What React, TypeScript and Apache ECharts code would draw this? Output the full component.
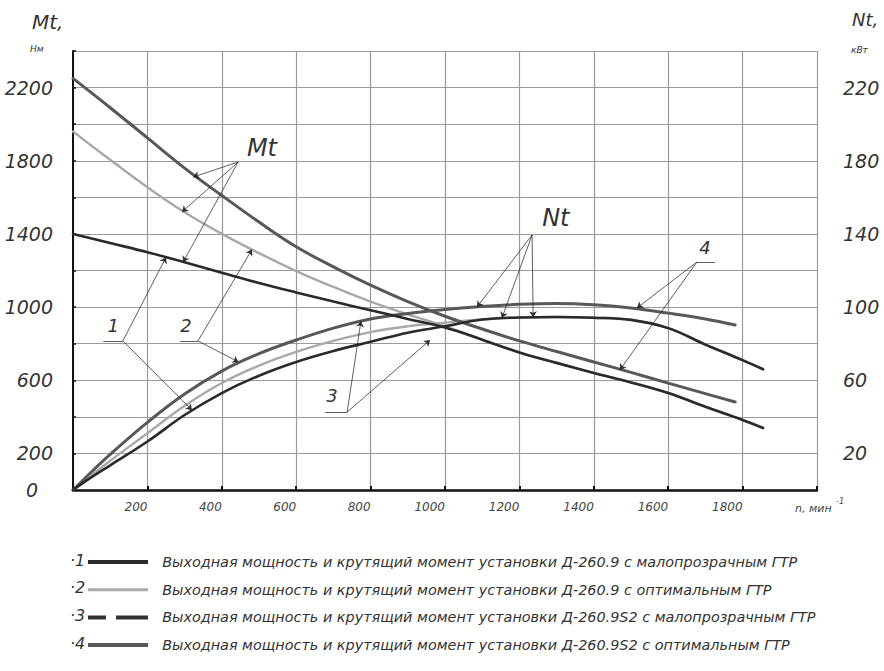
import React, { useEffect, useRef } from "react";
import * as echarts from "echarts";

const FONT = '"DejaVu Sans", "Noto Sans", sans-serif';

// ---- axis ticks ----
const MT_TICKS = [0, 200, 600, 1000, 1400, 1800, 2200];
const NT_TICKS = [20, 60, 100, 140, 180, 220];

// ---- legend names ----
const NAMES = [
  "Выходная мощность и крутящий момент установки Д-260.9 с малопрозрачным ГТР",
  "Выходная мощность и крутящий момент установки Д-260.9 с оптимальным ГТР",
  "Выходная мощность и крутящий момент установки Д-260.9S2 с малопрозрачным ГТР",
  "Выходная мощность и крутящий момент установки Д-260.9S2 с оптимальным ГТР",
];
const LEGEND_NUMS = ["·1", "·2", "·3", "·4"];

// ---- curve 4 (Д-260.9S2, оптимальный ГТР) ----
const N_MT4 = [0, 100, 200, 300, 400, 500, 600, 700, 800, 900, 1000, 1100, 1200, 1300, 1400, 1500, 1600, 1700, 1780];
const MT4 = [2250, 2090, 1925, 1760, 1610, 1465, 1330, 1220, 1120, 1030, 950, 880, 815, 757, 700, 643, 584, 527, 481];
const N_NT4 = [0, 50, 100, 200, 300, 400, 500, 600, 700, 800, 900, 1000, 1100, 1200, 1300, 1400, 1500, 1600, 1700, 1780];
const NT4 = [0, 10, 19.5, 37, 52.5, 65, 74.5, 82, 88.5, 93.5, 96.5, 98.7, 100.3, 101.5, 102, 101.3, 99.5, 96.7, 93.5, 90.2];

// ---- curves 1 and 2 (Д-260.9) ----
const N_12 = [0, 50, 100, 200, 300, 400, 500, 600, 700, 800, 900, 1000, 1100, 1200, 1300, 1400, 1500, 1600, 1700, 1800, 1855];
const MT2 = [1960, 1882, 1805, 1655, 1518, 1400, 1295, 1197, 1110, 1030, 960, 895, 822, 752, 695, 640, 588, 530, 455, 383, 339];
const NT2 = [0, 8, 16, 31, 46, 58.5, 68, 75.5, 81.5, 86.3, 89.5, 91.5, 93.2, 94.3, 94.6, 94.2, 93, 88.5, 79.5, 71, 66];
const MT1 = [1400, 1375, 1350, 1300, 1245, 1188, 1132, 1080, 1030, 983, 935, 888, 822, 752, 695, 640, 588, 530, 455, 383, 339];
const NT1 = [0, 7, 13.5, 26.5, 41, 53, 62.5, 70, 76, 81, 86, 89.5, 93.2, 94.3, 94.6, 94.2, 93, 88.5, 79.5, 71, 66];

// ---- curve 3 (dashed, not separately visible in the figure) ----
const N_3: number[] = [];
const MT3: number[] = [];
const NT3: number[] = [];

// ---- annotation leaders (n, Нм) ----
const POINTERS: number[][][] = [
  [[444, 1793], [323, 1711]], [[444, 1793], [293, 1520]], [[444, 1793], [296, 1246]],
  [[1234, 1394], [1086, 1000]], [[1234, 1394], [1153, 940]], [[1234, 1394], [1237, 944]],
  [[134, 815], [250, 1272]], [[134, 815], [320, 436]],
  [[336, 815], [481, 1315]], [[336, 815], [445, 700]],
  [[737, 426], [774, 923]], [[737, 426], [960, 820]],
  [[1677, 1246], [1516, 995]], [[1677, 1246], [1470, 656]],
];
const UNDERLINES: number[][][] = [
  [[81, 815], [134, 815]],
  [[288, 815], [336, 815]],
  [[678, 426], [737, 426]],
  [[1677, 1246], [1726, 1246]],
];
const ANNOT_TEXT = ["Mt", "Nt", "1", "2", "3", "4"];
const ANNOT_POS = [[508, 1870], [1298, 1487], [108, 902], [304, 902], [696, 514], [1699, 1328]];
const ANNOT_SIZE = [24, 24, 18, 18, 18, 18];

const zip = (xs: number[], ys: number[]) => xs.map((x, i) => [x, ys[i]]);

const COLORS = ["#2a2a2a", "#a9a9a9", "#333333", "#585858"];
const WIDTHS = [2.6, 2.4, 2.8, 3];
const TYPES: any[] = ["solid", "solid", [14, 8], "solid"];
const LEGEND_ICONS = [
  "path://M0,0H60V4H0Z",
  "path://M0,0.5H60V3.5H0Z",
  "path://M0,0H18V4H0Z M28,0H60V4H28Z",
  "path://M0,0H60V4H0Z",
];

function curve(idx: number, data: number[][], axis: number, z: number) {
  return {
    type: "line",
    name: NAMES[idx],
    yAxisIndex: axis,
    data,
    smooth: 0.4,
    symbol: "none",
    showSymbol: false,
    z,
    lineStyle: { color: COLORS[idx], width: WIDTHS[idx], type: TYPES[idx], cap: "round" },
    itemStyle: { color: COLORS[idx] },
  };
}

export default function App() {
  const ref = useRef<HTMLDivElement>(null);
  useEffect(() => {
    const chart = echarts.init(ref.current!, null, { renderer: "svg" });
    const labelBase = { fontFamily: FONT, fontStyle: "italic" as const, color: "#333" };
    const option: any = {
      animation: false,
      backgroundColor: "#fff",
      grid: { left: 73, right: 67, top: 51, bottom: 181 },
      xAxis: {
        type: "value",
        min: 0,
        max: 2000,
        interval: 200,
        axisLine: { show: true, lineStyle: { color: "#111", width: 2.5 } },
        axisTick: { show: true, inside: true, length: 4, lineStyle: { color: "#111", width: 2 } },
        axisLabel: {
          ...labelBase,
          fontSize: 12,
          color: "#444",
          align: "right",
          margin: 11,
          formatter: (v: number) => (v === 0 || v === 2000 ? "" : String(v)),
        },
        splitLine: { show: true, lineStyle: { color: "#9a9a9a", width: 1.2 } },
      },
      yAxis: [
        {
          type: "value",
          min: 0,
          max: 2400,
          interval: 200,
          position: "left",
          axisLine: { show: true, lineStyle: { color: "#111", width: 2 } },
          axisTick: { show: true, inside: true, length: 3, lineStyle: { color: "#111", width: 1.5 } },
          axisLabel: {
            ...labelBase,
            fontSize: 19,
            margin: 20,
            formatter: (v: number) => (v === 0 ? "{z|0}" : MT_TICKS.includes(v) ? String(v) : ""),
            rich: { z: { ...labelBase, fontSize: 19, padding: [0, 15, 0, 0] } },
          },
          splitLine: { show: true, lineStyle: { color: "#9a9a9a", width: 1.2 } },
        },
        {
          type: "value",
          min: 0,
          max: 240,
          interval: 20,
          position: "right",
          axisLine: { show: false },
          axisTick: { show: false },
          splitLine: { show: false },
          axisLabel: {
            ...labelBase,
            fontSize: 19,
            margin: 26,
            formatter: (v: number) => (NT_TICKS.includes(v) ? String(v) : ""),
          },
        },
      ],
      legend: {
        data: NAMES.map((n, i) => ({ name: n, icon: LEGEND_ICONS[i] })),
        orient: "vertical",
        left: 83,
        top: 550,
        itemWidth: 60,
        itemHeight: 14,
        itemGap: 13.7,
        selectedMode: false,
        formatter: (name: string) => "  " + name,
        textStyle: { ...labelBase, fontSize: 14.4 },
      },
      graphic: [
        { type: "text", left: 32, top: 12, style: { text: "Mt,", font: `italic 20px ${FONT}`, fill: "#333" } },
        { type: "text", left: 30, top: 44, style: { text: "Нм", font: `italic 9px ${FONT}`, fill: "#333" } },
        { type: "text", left: 852, top: 10, style: { text: "Nt,", font: `italic 18px ${FONT}`, fill: "#333" } },
        { type: "text", left: 851, top: 45, style: { text: "кВт", font: `italic 9px ${FONT}`, fill: "#333" } },
        { type: "text", left: 795, top: 503, style: { text: "n, мин", font: `italic 11px ${FONT}`, fill: "#444" } },
        { type: "text", left: 836, top: 497, style: { text: "-1", font: `italic 8px ${FONT}`, fill: "#444" } },
        ...LEGEND_NUMS.map((t, i) => ({
          type: "text",
          left: 70,
          top: 552 + i * 27.7,
          style: { text: t, font: `italic 16px ${FONT}`, fill: "#333" },
        })),
      ],
      series: [
        curve(1, zip(N_12, MT2), 0, 3),
        curve(1, zip(N_12, NT2), 1, 3),
        curve(3, zip(N_MT4, MT4), 0, 4),
        curve(3, zip(N_NT4, NT4), 1, 4),
        curve(0, zip(N_12, MT1), 0, 5),
        curve(0, zip(N_12, NT1), 1, 5),
        curve(2, zip(N_3, MT3), 0, 6),
        curve(2, zip(N_3, NT3), 1, 6),
        {
          type: "lines",
          coordinateSystem: "cartesian2d",
          xAxisIndex: 0,
          yAxisIndex: 0,
          z: 7,
          symbol: ["none", "arrow"],
          symbolSize: 6,
          lineStyle: { color: "#222", width: 0.8, opacity: 0.9 },
          data: POINTERS.map((c) => ({ coords: c })),
        },
        {
          type: "lines",
          coordinateSystem: "cartesian2d",
          xAxisIndex: 0,
          yAxisIndex: 0,
          z: 7,
          lineStyle: { color: "#222", width: 0.8, opacity: 0.9 },
          data: UNDERLINES.map((c) => ({ coords: c })),
        },
        {
          type: "scatter",
          xAxisIndex: 0,
          yAxisIndex: 0,
          z: 8,
          symbolSize: 1,
          itemStyle: { opacity: 0 },
          data: ANNOT_TEXT.map((t, i) => ({
            value: ANNOT_POS[i],
            name: t,
            label: {
              show: true,
              position: "inside",
              formatter: t,
              fontFamily: FONT,
              fontStyle: "italic",
              fontSize: ANNOT_SIZE[i],
              color: "#333",
              opacity: 1,
            },
          })),
        },
      ],
    };
    chart.setOption(option);
    return () => chart.dispose();
  }, []);
  return (
    <div
      ref={ref}
      style={{ position: "fixed", left: 0, top: 0, width: 884, height: 671, background: "#fff" }}
    />
  );
}
